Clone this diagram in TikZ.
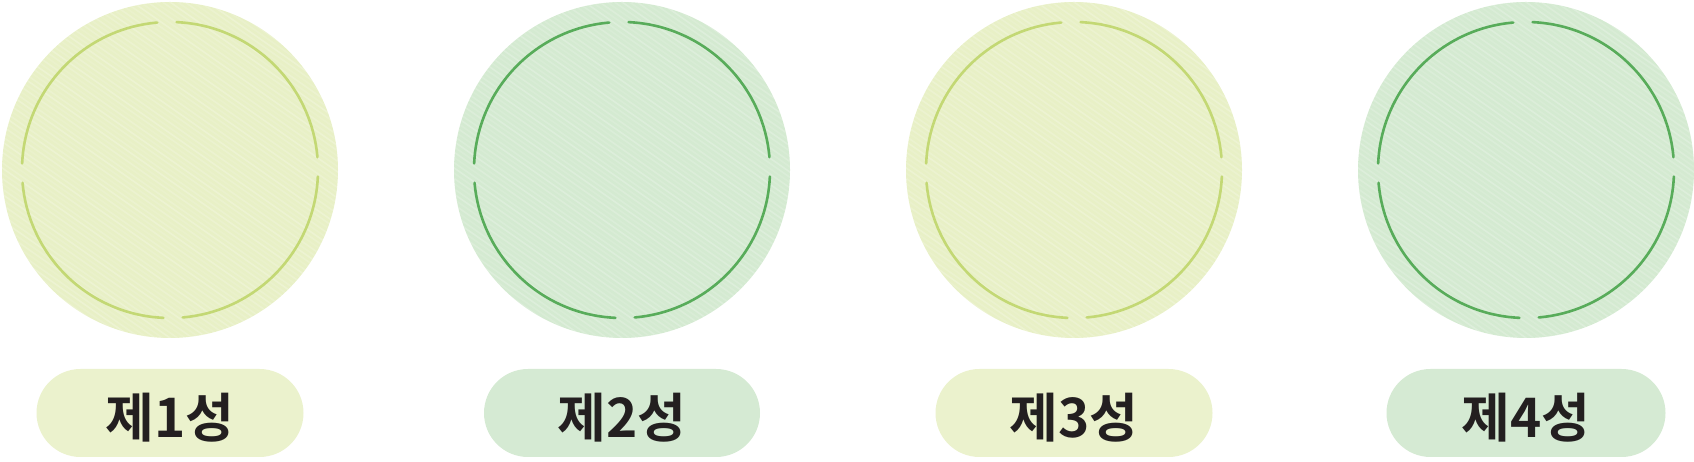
\documentclass[tikz,border=0pt]{standalone}
\usepackage{fontspec}
\newfontfamily\kr[Script=Hangul]{Noto Sans CJK KR Bold}
\definecolor{yfill}{HTML}{E8F0C6}
\definecolor{gfill}{HTML}{D4EAD1}
\definecolor{ystroke}{HTML}{C3D874}
\definecolor{gstroke}{HTML}{58AC5A}
\definecolor{ypill}{HTML}{EBF2CD}
\definecolor{gpill}{HTML}{D5EAD3}
\definecolor{ink}{HTML}{231F20}
\newcommand{\lbl}[1]{\raisebox{-5pt}[\height][\depth]{#1}}
\tikzset{
  disc/.style={circle, minimum size=336pt, inner sep=0pt, draw=none},
  pill/.style={rounded corners=44pt, minimum height=88pt, inner sep=0pt, draw=none,
    font=\kr\fontsize{53}{56}\selectfont, text=ink},
  ring/.style={line width=2.6pt, line cap=round},
}
\begin{document}
\begin{tikzpicture}[x=1pt,y=1pt]
\useasboundingbox (0,0) rectangle (1694,462);
% discs
\node[disc, fill=yfill] (c1) at (170,292) {};
\node[disc, fill=gfill] (c2) at (622,292) {};
\node[disc, fill=yfill] (c3) at (1074,292) {};
\node[disc, fill=gfill] (c4) at (1526,292) {};
% texture
\foreach \c in {c1,c2,c3,c4}{
  \begin{scope}
    \clip (\c.center) circle (168);
    \foreach \i in {-40,...,40}{
      \pgfmathsetmacro{\op}{0.10+0.12*mod(abs(\i)*7,5)/4}
      \draw[white, opacity=\op, line width=1.6pt, rotate around={-35:(\c.center)}]
        ([shift={(-200,\i*4.3)}]\c.center) -- ([shift={(200,\i*4.3)}]\c.center);
    }
  \end{scope}
}
% dashed rings
\foreach \c/\col in {c1/ystroke,c2/gstroke,c3/ystroke,c4/gstroke}{
  \foreach \k in {0,1,2,3}{
    \pgfmathsetmacro{\a}{\k*90+1.2+3.75}
    \pgfmathsetmacro{\b}{\k*90+1.2+90-3.75}
    \draw[ring, draw=\col] ([shift={(\a:148)}]\c.center) arc[start angle=\a, end angle=\b, radius=148];
  }
}
% pills
\node[pill, fill=ypill, minimum width=267pt] (p1) at (170,49) {\lbl{제1성}};
\node[pill, fill=gpill, minimum width=276pt] (p2) at (622,49) {\lbl{제2성}};
\node[pill, fill=ypill, minimum width=277pt] (p3) at (1074,49) {\lbl{제3성}};
\node[pill, fill=gpill, minimum width=279pt] (p4) at (1526,49) {\lbl{제4성}};
\end{tikzpicture}
\end{document}
